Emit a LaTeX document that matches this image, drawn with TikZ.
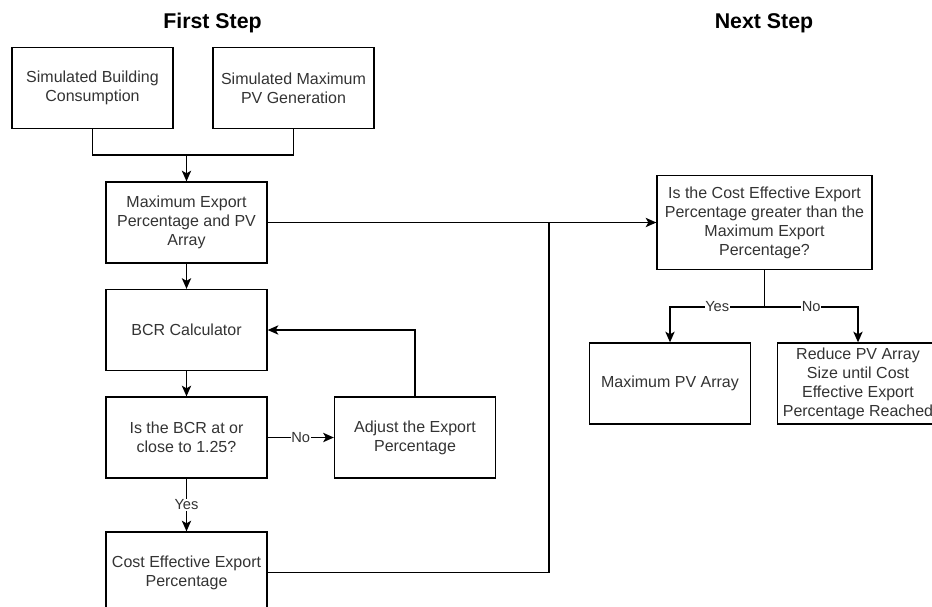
\documentclass[tikz,border=0pt]{standalone}
\usepackage{fontspec}
\setmainfont{Liberation Sans}
\usetikzlibrary{arrows.meta,positioning}

\begin{document}
\begin{tikzpicture}[x=0.75pt,y=-0.75pt,
  box/.style={draw,line width=1pt,minimum width=120.75pt,minimum height=60.75pt,align=center,inner sep=1pt,text=black!80,font=\fontsize{12pt}{14.3pt}\selectfont},
  flow/.style={line width=1pt,-{Stealth[length=8pt,width=7pt,inset=2pt]}},
  link/.style={line width=1pt},
  lbl/.style={fill=white,inner sep=0.5pt,text=black!80,font=\fontsize{11pt}{13pt}\selectfont},
  title/.style={font=\fontsize{16pt}{19pt}\selectfont\bfseries}]
\clip (0,0) rectangle (932,607);
% first step
\node[title] (firsttitle) at (212.5,23) {First Step};
\node[box] (bld) at (92.5,88) {Simulated Building\\Consumption};
\node[box] (pvgen) at (293.5,88) {Simulated Maximum\\PV Generation};
\node[box] (maxexp) at (186.5,222.5) {Maximum Export\\Percentage and PV\\Array};
\node[box] (bcr) at (186.5,330) {BCR Calculator};
\node[box] (check) at (186.5,437.5) {Is the BCR at or\\close to 1.25?};
\node[box] (adjust) at (415,437.5) {Adjust the Export\\Percentage};
\node[box] (costeff) at (186.5,572.5) {Cost Effective Export\\Percentage};
\coordinate (join) at (186.5,155);
\coordinate (merge) at (549,222.5);
\draw[link] (bld.south) |- (join);
\draw[link] (pvgen.south) |- (join);
\draw[flow] (join) -- (maxexp.north);
\draw[flow] (maxexp) -- (bcr);
\draw[flow] (bcr) -- (check);
\draw[flow] (check) -- node[lbl] {No} (adjust);
\draw[flow] (adjust.north) |- (bcr.east);
\draw[flow] (check) -- node[lbl] {Yes} (costeff);
\draw[link] (costeff.east) -| (merge);
% next step
\node[title] (nexttitle) at (764,23) {Next Step};
\node[box,minimum width=161.25pt,minimum height=70.5pt] (compare) at (764.5,222.5) {Is the Cost Effective Export\\Percentage greater than the\\Maximum Export\\Percentage?};
\node[box] (maxpv) at (670,383.5) {Maximum PV Array};
\node[box] (reduce) at (858,383.5) {Reduce PV Array\\Size until Cost\\Effective Export\\Percentage Reached};
\coordinate (split) at (764.5,307);
\draw[flow] (maxexp.east) -- (compare.west);
\draw[link] (compare.south) -- (split);
\draw[flow] (split) -| node[lbl,pos=0.25] {Yes} (maxpv.north);
\draw[flow] (split) -| node[lbl,pos=0.25] {No} (reduce.north);
\end{tikzpicture}
\end{document}
